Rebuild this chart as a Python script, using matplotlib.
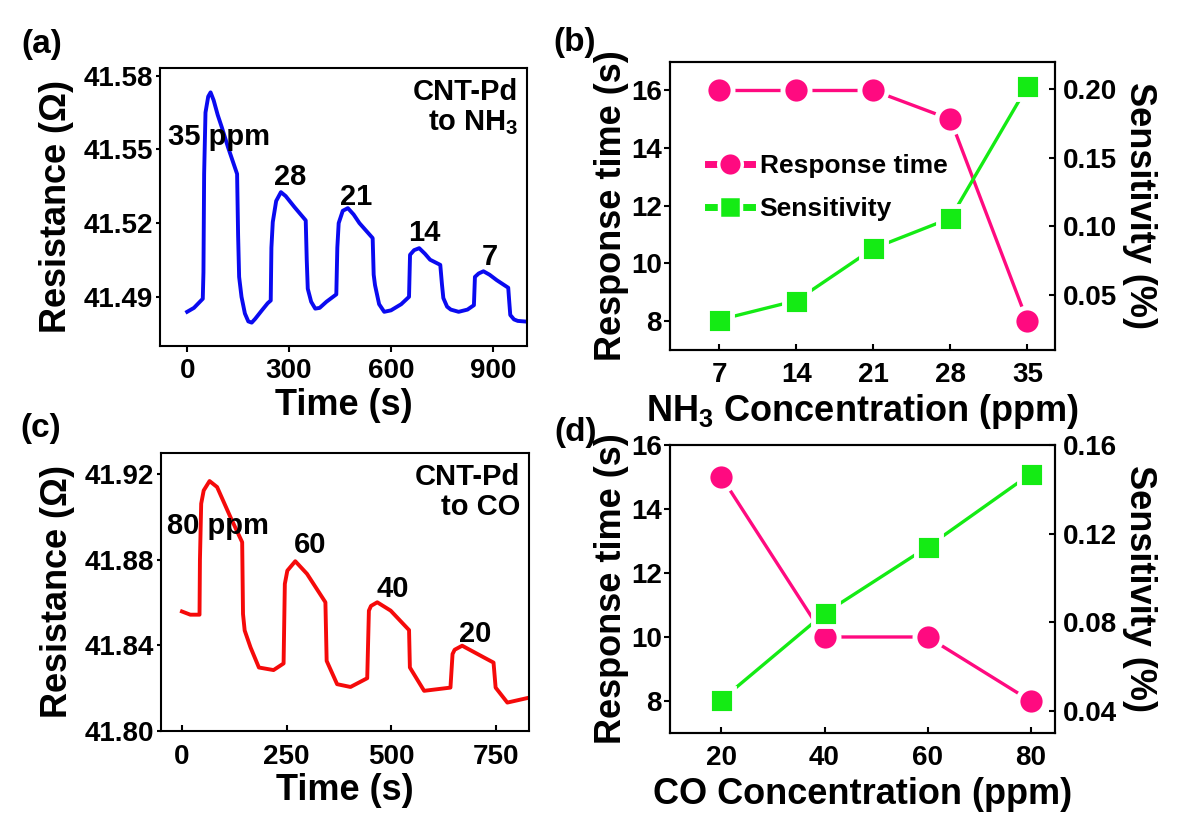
import matplotlib
matplotlib.use("Agg")
import matplotlib.pyplot as plt
from matplotlib.lines import Line2D
from matplotlib.ticker import FormatStrFormatter

plt.rcParams.update({
    "font.family": ["Liberation Sans", "DejaVu Sans"],
    "font.weight": "bold",
    "axes.labelweight": "bold",
    "axes.linewidth": 1.5,
    "mathtext.fontset": "custom",
    "mathtext.rm": "Liberation Sans:bold",
    "mathtext.it": "Liberation Sans:bold",
    "mathtext.bf": "Liberation Sans:bold",
    "mathtext.default": "rm",
})

BLUE = "#0A0AF0"
RED = "#F50A0A"
PINK = "#FF0A80"
GREEN = "#14EB14"

# (a) resistance of CNT-Pd under NH3 pulses
nh3_time = [0, 20, 46, 48, 50, 54, 62, 69, 78, 90, 102, 120, 147, 150, 153, 160, 170, 180,
            190, 200, 220, 237, 246, 248, 252, 262, 276, 290, 316, 349, 352, 355, 365, 377,
            390, 410, 439, 442, 446, 458, 473, 490, 507, 546, 549, 553, 565, 580, 600, 630,
            653, 656, 668, 683, 700, 715, 745, 750, 754, 765, 776, 799, 825, 844, 847, 858,
            872, 890, 911, 945, 948, 951, 962, 973, 1000]
nh3_res = [41.4839, 41.4855, 41.4892, 41.5000, 41.5400, 41.5650, 41.5715, 41.5732, 41.5700,
           41.5640, 41.5590, 41.5510, 41.5400, 41.5150, 41.4981, 41.4900, 41.4832, 41.4800,
           41.4795, 41.4810, 41.4845, 41.4874, 41.4885, 41.5100, 41.5204, 41.5290, 41.5326,
           41.5310, 41.5265, 41.5211, 41.5050, 41.4933, 41.4880, 41.4852, 41.4855, 41.4880,
           41.4910, 41.5100, 41.5200, 41.5250, 41.5261, 41.5235, 41.5200, 41.5139, 41.4990,
           41.4947, 41.4870, 41.4839, 41.4845, 41.4870, 41.4900, 41.5071, 41.5090, 41.5098,
           41.5075, 41.5051, 41.5030, 41.4950, 41.4895, 41.4860, 41.4848, 41.4839, 41.4848,
           41.4866, 41.4981, 41.4995, 41.5004, 41.4990, 41.4968, 41.4937, 41.4880, 41.4826,
           41.4808, 41.4802, 41.4799]
nh3_labels = ["35 ppm", "28", "21", "14", "7"]

# (c) resistance of CNT-Pd under CO pulses
co_time = [0, 20, 42, 43, 46, 52, 66, 84, 116, 144, 146, 150, 164, 184, 219, 243, 246, 252,
           271, 299, 343, 346, 371, 403, 443, 447, 452, 467, 499, 543, 545, 579, 642, 647,
           652, 670, 722, 745, 750, 778, 830]
co_res = [41.8559, 41.8544, 41.8544, 41.8800, 41.9063, 41.9125, 41.9169, 41.9141, 41.9000,
          41.8883, 41.8547, 41.8470, 41.8391, 41.8297, 41.8285, 41.8316, 41.8688, 41.8750,
          41.8794, 41.8735, 41.8602, 41.8328, 41.8219, 41.8206, 41.8247, 41.8563, 41.8585,
          41.8602, 41.8563, 41.8472, 41.8297, 41.8188, 41.8203, 41.8360, 41.8380, 41.8399,
          41.8344, 41.8320, 41.8203, 41.8133, 41.8156]
co_labels = ["80 ppm", "60", "40", "20"]

# (b) NH3 response time / sensitivity
nh3_conc = [7, 14, 21, 28, 35]
nh3_resp_time = [16, 16, 16, 15, 8]
nh3_sens = [0.032, 0.046, 0.084, 0.106, 0.202]

# (d) CO response time / sensitivity
co_conc = [20, 40, 60, 80]
co_resp_time = [15, 10, 10, 8]
co_sens = [0.045, 0.084, 0.114, 0.147]

TICK_FS = 20
LABEL_FS = 26

fig = plt.figure(figsize=(12, 8.21), dpi=100)

ax_a = fig.add_axes([0.1333, 0.5786, 0.3058, 0.3382])
ax_c = fig.add_axes([0.1342, 0.1096, 0.3067, 0.3386])
ax_b = fig.add_axes([0.5583, 0.5737, 0.3208, 0.3512])
ax_d = fig.add_axes([0.5583, 0.1072, 0.3208, 0.3508])


def resistance_panel(ax, t, r, color, xlim, xticks, ylim, yticks, xdir, gas_text, marks, mark_pos):
    ax.plot(t, r, color=color, lw=2.8)
    ax.set_xlim(*xlim)
    ax.set_ylim(*ylim)
    ax.set_xticks(xticks)
    ax.set_yticks(yticks)
    ax.yaxis.set_major_formatter(FormatStrFormatter("%.2f"))
    ax.tick_params(axis="x", direction=xdir, length=4, width=1.5, pad=5 if xdir == "out" else 9,
                   labelsize=TICK_FS)
    ax.tick_params(axis="y", direction="out", length=3, width=1.5, pad=2, labelsize=TICK_FS)
    ax.set_xlabel("Time (s)", fontsize=LABEL_FS, va="center")
    ax.xaxis.set_label_coords(0.5, -0.215)
    ax.set_ylabel("Resistance ($\\Omega$)", fontsize=LABEL_FS, va="center")
    ax.yaxis.set_label_coords(-0.282, 0.5)
    ax.text(0.976, 0.965, gas_text, transform=ax.transAxes, ha="right", va="top",
            fontsize=21, linespacing=1.1)
    for txt, (x, y) in zip(marks, mark_pos):
        ha = "left" if "ppm" in txt else "center"
        ax.text(x, y, txt, fontsize=21, ha=ha, va="center")


resistance_panel(ax_a, nh3_time, nh3_res, BLUE, (-80, 1000), [0, 300, 600, 900],
                 (41.470, 41.583), [41.49, 41.52, 41.55, 41.58], "out",
                 "CNT-Pd\nto NH$_3$", nh3_labels,
                 [(-56, 41.5551), (302, 41.5388), (498, 41.5307), (698, 41.5158), (891, 41.5063)])

resistance_panel(ax_c, co_time, co_res, RED, (-50, 830), [0, 250, 500, 750],
                 (41.80, 41.93), [41.80, 41.84, 41.88, 41.92], "in",
                 "CNT-Pd\nto CO", co_labels,
                 [(-36, 41.896), (307, 41.8868), (504, 41.8664), (702, 41.8453)])


def response_panel(ax, conc, rt, sens, xlim, xticks, rt_lim, s_lim, s_ticks, xlabel, legend=False):
    ax.plot(conc, rt, color=PINK, lw=2.4, marker="o", ms=19.5, mec="white", mew=3.5)
    ax.set_xlim(*xlim)
    ax.set_ylim(*rt_lim)
    ax.set_xticks(xticks)
    ax.set_yticks([8, 10, 12, 14, 16])
    ax.tick_params(axis="x", direction="in", length=4, width=1.5, pad=9, labelsize=TICK_FS)
    ax.tick_params(axis="y", direction="out", length=4, width=1.5, pad=2, labelsize=TICK_FS)
    ax.set_xlabel(xlabel, fontsize=LABEL_FS, va="center")
    ax.xaxis.set_label_coords(0.5, -0.212)
    ax.set_ylabel("Response time (s)", fontsize=LABEL_FS, va="center")
    ax.yaxis.set_label_coords(-0.153, 0.5)

    ax2 = ax.twinx()
    ax2.plot(conc, sens, color=GREEN, lw=2.4, marker="s", ms=18, mec="white", mew=3.5)
    ax2.set_ylim(*s_lim)
    ax2.set_yticks(s_ticks)
    ax2.yaxis.set_major_formatter(FormatStrFormatter("%.2f"))
    ax2.tick_params(axis="y", direction="in", length=4, width=1.5, pad=6, labelsize=TICK_FS)
    ax2.set_ylabel("Sensitivity (%)", fontsize=LABEL_FS, rotation=270, va="center")
    ax2.yaxis.set_label_coords(1.221, 0.5)

    if legend:
        handles = [
            Line2D([], [], color=PINK, lw=5, marker="o", ms=17, mec="white", mew=2.5),
            Line2D([], [], color=GREEN, lw=5, marker="s", ms=16, mec="white", mew=2.5),
        ]
        ax2.legend(handles, ["Response time", "Sensitivity"], loc="upper left",
                   bbox_to_anchor=(0.099, 0.68), frameon=False, fontsize=19,
                   handlelength=1.65, handletextpad=0.3, labelspacing=0.72,
                   borderpad=0, borderaxespad=0, numpoints=1)
    return ax2


response_panel(ax_b, nh3_conc, nh3_resp_time, nh3_sens, (2.5, 37.5), nh3_conc,
               (7, 17), (0.01, 0.22), [0.05, 0.10, 0.15, 0.20],
               "NH$_3$ Concentration (ppm)", legend=True)
response_panel(ax_d, co_conc, co_resp_time, co_sens, (10, 84.7), co_conc,
               (7, 16), (0.03, 0.16), [0.04, 0.08, 0.12, 0.16],
               "CO Concentration (ppm)")

for lbl, x, y in [("(a)", 21, 44), ("(b)", 553, 42), ("(c)", 20, 428), ("(d)", 554, 432)]:
    fig.text(x / 1200, 1 - y / 821, lbl, fontsize=24, ha="left", va="center")

fig.savefig("out.png", dpi=100)
